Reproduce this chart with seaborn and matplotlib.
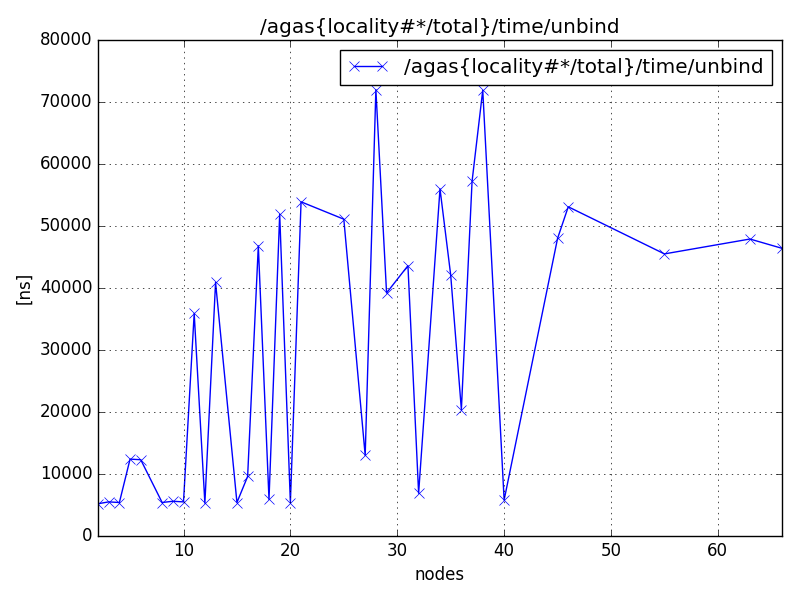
import pandas as pd
import seaborn as sns
from matplotlib import pyplot as plt

# node counts and unbind time per node count [ns]
nodes = [2, 3, 4, 5, 6, 8, 9, 10, 11, 12, 13, 15, 16, 17, 18, 19, 20, 21,
         25, 27, 28, 29, 31, 32, 34, 35, 36, 37, 38, 40, 45, 46, 55, 63, 66]
unbind_ns = [5200, 5500, 5400, 12400, 12300, 5400, 5600, 5500, 35900, 5300,
             40900, 5400, 9600, 46800, 5900, 51900, 5400, 53900,
             51100, 13000, 72000, 39200, 43600, 6900, 56000, 42100, 20400,
             57200, 71900, 5800, 48000, 53100, 45500, 47900, 46400]
series_name = '/agas{locality#*/total}/time/unbind'

df = pd.DataFrame({'nodes': nodes, 'ns': unbind_ns})

plt.style.use('classic')
plt.rcParams['figure.facecolor'] = 'white'
plt.rcParams['savefig.facecolor'] = 'white'

fig, ax = plt.subplots(figsize=(8, 6), dpi=100)
fig.subplots_adjust(left=0.1225, right=0.9775, top=0.9333, bottom=0.1067)
sns.lineplot(data=df, x='nodes', y='ns', marker='x', color='blue',
             markeredgecolor='blue', markersize=7, markeredgewidth=0.5,
             linewidth=1, label=series_name, ax=ax)

ax.set_xlim(2, 66)
ax.set_ylim(0, 80000)
ax.set_xlabel('nodes')
ax.set_ylabel('[ns]')
ax.set_title(series_name)
ax.grid(True, color='black', linestyle=':')
ax.legend(loc='upper right', numpoints=2)

plt.savefig('out.png', dpi=100)
